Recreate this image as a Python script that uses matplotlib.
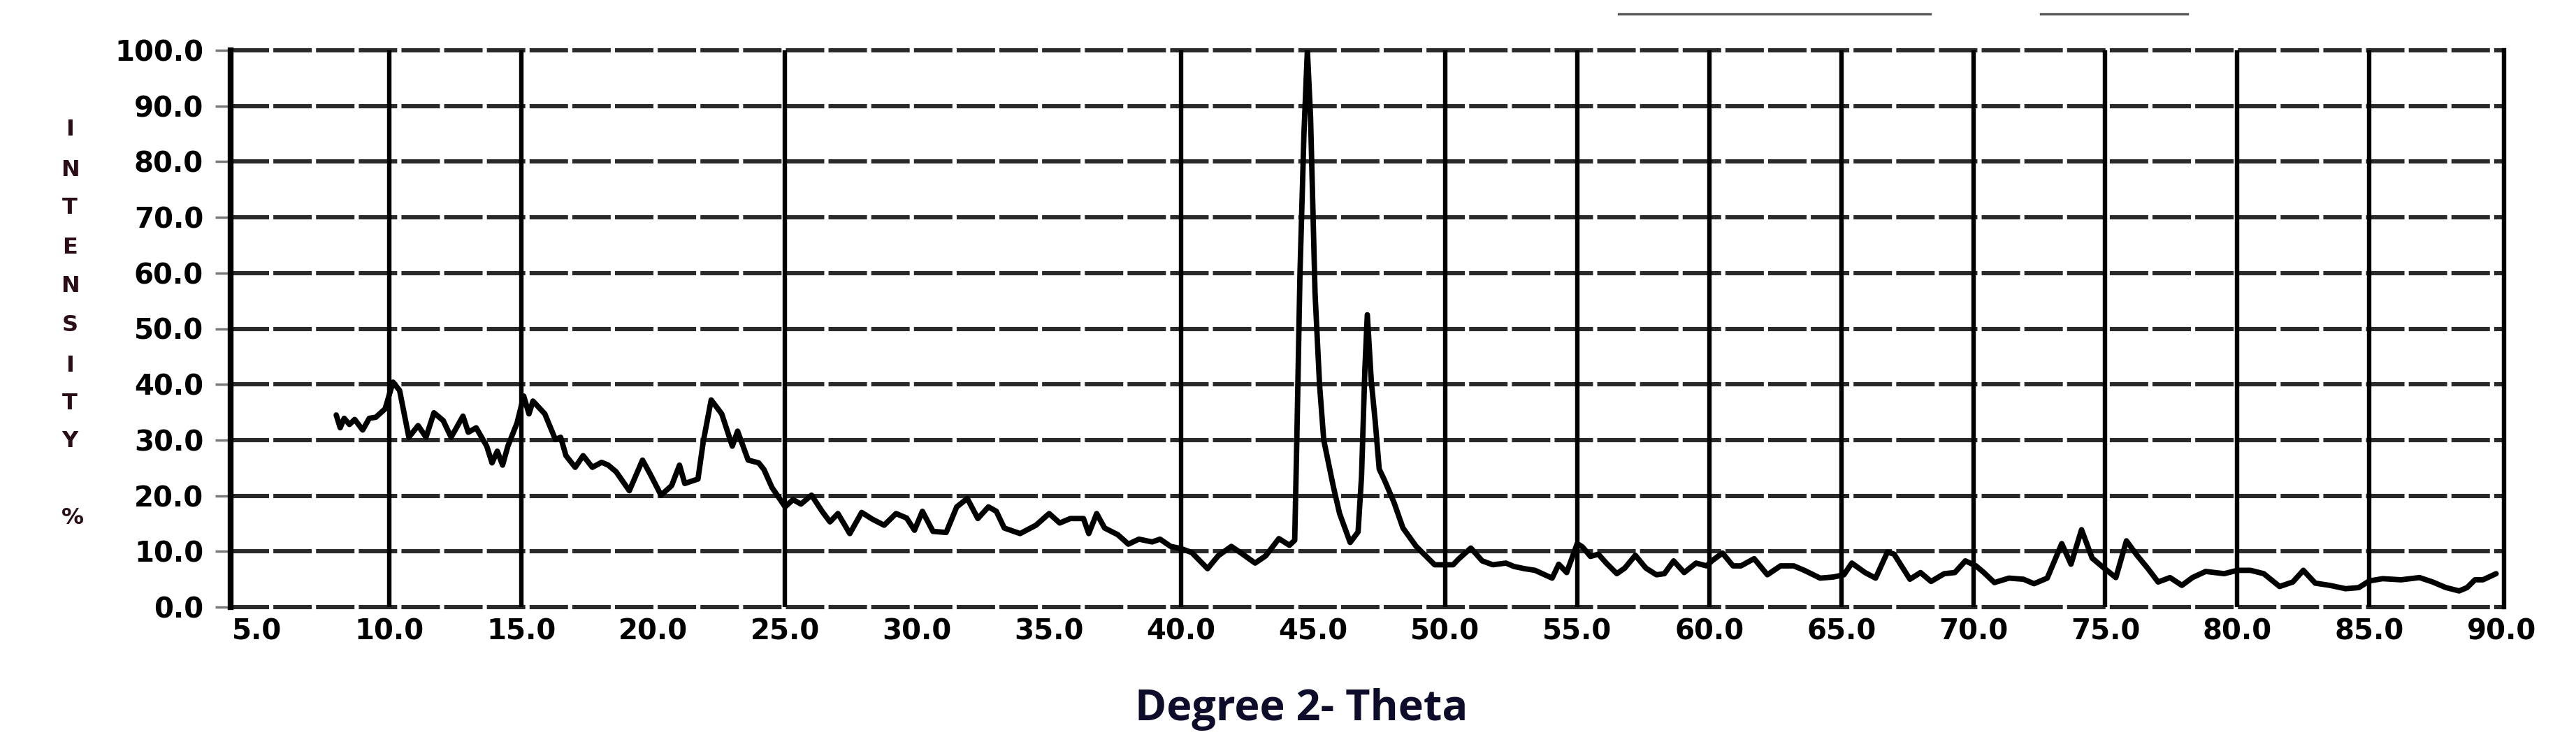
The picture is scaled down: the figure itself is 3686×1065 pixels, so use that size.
import matplotlib
matplotlib.use("Agg")
import matplotlib.pyplot as plt
from matplotlib.lines import Line2D

# ---------------- data ----------------
two_theta = [
    8.0, 8.15, 8.3, 8.5, 8.7, 9.0, 9.25, 9.5, 9.85, 10.15, 10.4, 10.75, 11.1, 11.4,
    11.7, 12.05, 12.35, 12.8, 13.0, 13.3, 13.7, 13.9, 14.1, 14.3, 14.5, 14.85, 15.1,
    15.3, 15.45, 15.9, 16.3, 16.5, 16.7, 17.05, 17.35, 17.7, 18.05, 18.3, 18.6, 19.1,
    19.6, 19.9, 20.3, 20.7, 21.0, 21.2, 21.7, 21.9, 22.2, 22.6, 23.0, 23.2, 23.6, 24.0,
    24.2, 24.5, 25.0, 25.3, 25.6, 26.0, 26.4, 26.7, 27.0, 27.45, 27.9, 28.3, 28.75,
    29.2, 29.6, 29.9, 30.2, 30.6, 31.1, 31.5, 31.9, 32.3, 32.7, 33.0, 33.3, 33.9, 34.5,
    35.0, 35.4, 35.8, 36.3, 36.5, 36.8, 37.1, 37.6, 38.0, 38.4, 38.9, 39.2, 39.6, 40.0,
    40.4, 41.0, 41.4, 41.9, 42.3, 42.8, 43.2, 43.7, 44.1, 44.3, 44.38, 44.5, 44.65,
    44.78, 44.9, 45.07, 45.24, 45.4, 45.77, 46.0, 46.4, 46.7, 46.83, 46.96, 47.05,
    47.2, 47.35, 47.5, 47.7, 48.06, 48.4, 48.9, 49.6, 50.3, 50.5, 50.97, 51.4, 51.8,
    52.3, 52.6, 53.0, 53.4, 54.05, 54.3, 54.6, 55.0, 55.2, 55.5, 55.8, 56.1, 56.5,
    56.8, 57.2, 57.6, 58.0, 58.3, 58.65, 59.05, 59.5, 59.9, 60.1, 60.5, 60.9, 61.2,
    61.7, 62.2, 62.7, 63.2, 63.6, 64.2, 64.7, 65.1, 65.4, 65.9, 66.3, 66.75, 67.0,
    67.6, 68.0, 68.4, 68.9, 69.3, 69.7, 70.1, 70.4, 70.8, 71.35, 71.9, 72.3, 72.8,
    73.35, 73.7, 74.1, 74.5, 74.9, 75.4, 75.8, 76.2, 76.6, 77.0, 77.45, 77.9, 78.3,
    78.8, 79.5, 80.0, 80.5, 81.0, 81.6, 82.1, 82.5, 82.95, 83.5, 84.1, 84.6, 85.0,
    85.5, 86.2, 86.9, 87.4, 87.9, 88.4, 88.7, 89.0, 89.3, 89.8,
]
intensity = [
    34.5, 32.2, 33.9, 32.8, 33.7, 31.8, 33.9, 34.1, 35.6, 40.4, 38.9, 30.5, 32.6, 30.5,
    34.9, 33.5, 30.5, 34.3, 31.4, 32.2, 28.9, 25.9, 28.0, 25.5, 28.9, 33.1, 37.9,
    34.7, 37.0, 34.7, 30.1, 30.5, 27.2, 25.1, 27.2, 25.1, 26.0, 25.5, 24.3, 20.9,
    26.4, 23.8, 20.1, 21.8, 25.5, 22.2, 23.0, 29.7, 37.2, 34.7, 28.9, 31.6, 26.4, 25.9,
    24.7, 21.5, 18.0, 19.3, 18.5, 20.1, 17.2, 15.3, 16.8, 13.2, 17.0, 15.8, 14.7,
    16.8, 16.0, 13.8, 17.2, 13.6, 13.4, 18.0, 19.5, 15.9, 18.0, 17.2, 14.2, 13.2, 14.7,
    16.8, 15.1, 15.9, 15.9, 13.2, 16.8, 14.2, 13.0, 11.3, 12.2, 11.7, 12.2, 10.9, 10.5,
    9.8, 6.9, 9.2, 10.9, 9.6, 7.9, 9.2, 12.3, 11.1, 12.0, 30.0, 60.0, 85.0,
    100.0, 88.0, 56.4, 40.0, 30.0, 21.5, 16.8, 11.6, 13.5, 23.4, 43.0, 52.5,
    40.6, 33.3, 24.8, 22.8, 18.8, 14.2, 10.9, 7.6, 7.6, 8.6, 10.6, 8.3, 7.6,
    7.9, 7.3, 6.9, 6.6, 5.2, 7.7, 6.2, 11.4, 10.8, 9.1, 9.5, 7.9, 6.0,
    7.0, 9.3, 7.0, 5.8, 6.0, 8.3, 6.2, 7.9, 7.4, 8.3, 9.7, 7.4, 7.4,
    8.7, 5.8, 7.4, 7.4, 6.6, 5.2, 5.4, 5.8, 7.9, 6.2, 5.2, 9.9, 9.5,
    5.0, 6.2, 4.6, 6.0, 6.2, 8.3, 7.4, 6.2, 4.4, 5.2, 5.0, 4.2, 5.2,
    11.4, 7.7, 13.9, 8.8, 7.2, 5.3, 11.9, 9.3, 7.0, 4.5, 5.3, 3.9, 5.3,
    6.4, 6.0, 6.6, 6.6, 6.0, 3.7, 4.5, 6.6, 4.3, 3.9, 3.3, 3.5, 4.7,
    5.1, 4.9, 5.3, 4.5, 3.5, 2.9, 3.5, 4.9, 4.9, 6.0,
]

x_ticks = [5, 10, 15, 20, 25, 30, 35, 40, 45, 50, 55, 60, 65, 70, 75, 80, 85, 90]
x_tick_labels = ["5.0", "10.0", "15.0", "20.0", "25.0", "30.0", "35.0", "40.0", "45.0",
                 "50.0", "55.0", "60.0", "65.0", "70.0", "75.0", "80.0", "85.0", "90.0"]
y_ticks = [0, 10, 20, 30, 40, 50, 60, 70, 80, 90, 100]
y_tick_labels = ["0.0", "10.0", "20.0", "30.0", "40.0", "50.0", "60.0", "70.0",
                 "80.0", "90.0", "100.0"]
v_grid = [10, 15, 25, 40, 50, 55, 60, 65, 70, 75, 80, 85]
y_label_letters = ["I", "N", "T", "E", "N", "S", "I", "T", "Y"]
x_label = "Degree 2- Theta"

# ---------------- figure ----------------
W, H = 3686, 1065
fig = plt.figure(figsize=(W / 100, H / 100), dpi=100)
fig.patch.set_facecolor("white")

ax_l, ax_r, ax_t, ax_b = 330, 3583, 72, 869
ax = fig.add_axes([ax_l / W, 1 - ax_b / H, (ax_r - ax_l) / W, (ax_b - ax_t) / H])
ax.set_xlim(4.0, 90.1)
ax.set_ylim(0, 100)

# horizontal (dashed, grey) grid lines incl. top/bottom frame
for yv in y_ticks:
    ax.axhline(yv, color="#2a2a2a", lw=4.4, ls=(0, (9, 1.0)), zorder=1, clip_on=False)
# vertical solid grid lines
for xv in v_grid:
    ax.axvline(xv, color="black", lw=4.6, zorder=1.5)

# data trace
ax.plot(two_theta, intensity, color="black", lw=5.6, zorder=3,
        solid_joinstyle="round", solid_capstyle="round")

for s in ["top", "bottom"]:
    ax.spines[s].set_visible(False)
ax.spines["left"].set_linewidth(6)
ax.spines["left"].set_color("black")
ax.spines["right"].set_linewidth(4.6)
ax.spines["right"].set_color("black")

tick_font = dict(family="DejaVu Sans", weight="heavy", size=29)
ax.set_xticks(x_ticks)
ax.set_xticklabels(x_tick_labels, **tick_font)
ax.set_yticks(y_ticks)
ax.set_yticklabels(y_tick_labels, **tick_font)
ax.tick_params(axis="x", length=0, pad=11, colors="black")
ax.tick_params(axis="y", length=16, width=2.5, pad=12, color="#777777", labelcolor="black")

# stacked y label "INTENSITY %"
letter_y = [186, 243, 297, 355, 409, 466, 524, 578, 632]
for ch, yy in zip(y_label_letters, letter_y):
    fig.text(100 / W, 1 - yy / H, ch, ha="center", va="center", fontsize=23,
             weight="heavy", color="#2a0d16", family="DejaVu Sans")
fig.text(104 / W, 1 - 742 / H, "%", ha="center", va="center", fontsize=23,
         weight="heavy", color="#2a0d16", family="DejaVu Sans")

# x label
fig.text(1862 / W, 1 - 1015 / H, x_label, ha="center", va="center", fontsize=44,
         weight="bold", color="#0d0d2b",
         family=["Liberation Sans Narrow", "Open Sans", "DejaVu Sans"])

# stray scan marks at the top of the original
fig.add_artist(Line2D([2316 / W, 2762 / W], [1 - 20 / H, 1 - 20 / H],
                      color="#555555", lw=2.4, transform=fig.transFigure))
fig.add_artist(Line2D([2920 / W, 3130 / W], [1 - 20 / H, 1 - 20 / H],
                      color="#555555", lw=2.4, transform=fig.transFigure))

fig.savefig("out.png", dpi=100, facecolor="white")
